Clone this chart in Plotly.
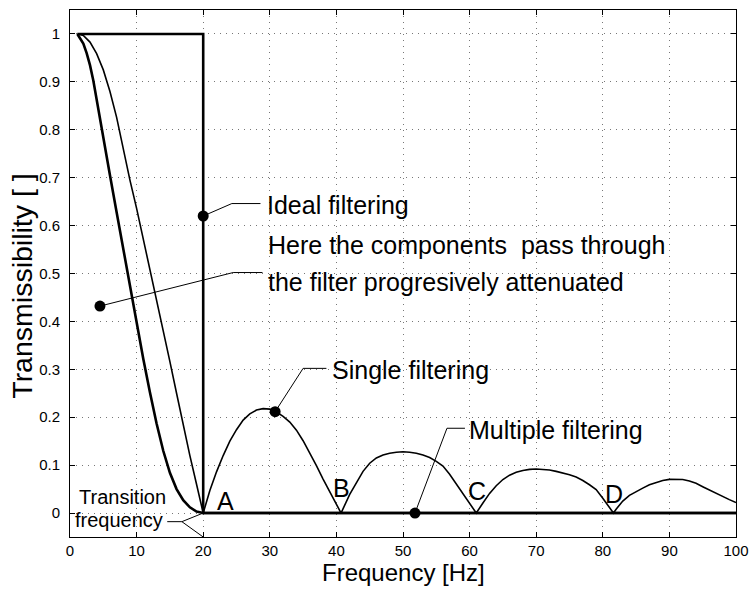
import plotly.graph_objects as go

# ---------------- data ----------------
# Ideal filter (thick)
freq_ideal = [1.1, 20, 20, 100]
trans_ideal = [1.0, 1.0, 0.0, 0.0]

# Single filtering (thin): main lobe + side lobes A-B, B-C, C-D, D-end
freq_single = [1.2, 2.0, 3.0, 4.0, 5.0, 6.0, 7.0, 7.5, 8.0, 9.0, 10.0, 11.0, 12.0, 13.0, 14.0, 15.0,
               16.0, 17.0, 18.0, 19.0, 20.0,
               21.0, 22.0, 23.0, 24.0, 25.0, 26.0, 27.0, 28.0, 29.0, 30.0, 31.0, 32.0, 33.0, 34.0,
               35.0, 36.0, 37.0, 38.0, 39.0, 40.0, 40.7,
               42.0, 43.0, 44.0, 45.0, 46.0, 47.0, 48.0, 49.0, 50.0, 51.0, 52.0, 53.0, 54.0, 55.0,
               56.0, 57.0, 58.0, 59.0, 60.0, 61.0,
               62.0, 63.0, 64.0, 65.0, 66.0, 67.0, 68.0, 69.0, 70.0, 71.0, 72.0, 73.0, 74.0, 75.0,
               76.0, 77.0, 78.0, 79.0, 80.0, 81.0, 81.6,
               82.0, 83.0, 84.0, 85.0, 86.0, 87.0, 88.0, 89.0, 90.0, 91.0, 92.0, 93.0, 94.0, 95.0,
               96.0, 97.0, 98.0, 99.0, 100.0]
trans_single = [1.0, 0.997, 0.983, 0.959, 0.925, 0.88, 0.826, 0.793, 0.76, 0.695, 0.636, 0.573, 0.51,
                0.445, 0.38, 0.316, 0.25, 0.184, 0.12, 0.06, 0.0,
                0.047, 0.086, 0.12, 0.15, 0.174, 0.194, 0.207, 0.215, 0.218, 0.217, 0.211, 0.202,
                0.19, 0.173, 0.151, 0.126, 0.099, 0.071, 0.044, 0.018, 0.0,
                0.039, 0.064, 0.087, 0.104, 0.115, 0.121, 0.125, 0.127, 0.128, 0.127, 0.125, 0.121,
                0.116, 0.108, 0.098, 0.081, 0.061, 0.041, 0.021, 0.0,
                0.021, 0.041, 0.057, 0.07, 0.079, 0.085, 0.089, 0.0912, 0.0918, 0.0915, 0.09, 0.087,
                0.084, 0.08, 0.075, 0.068, 0.059, 0.049, 0.031, 0.012, 0.0,
                0.008, 0.025, 0.037, 0.045, 0.052, 0.059, 0.064, 0.068, 0.0703, 0.0708, 0.07, 0.067,
                0.062, 0.055, 0.048, 0.041, 0.035, 0.028, 0.022]

# Multiple filtering (thick)
freq_multiple = [1.1, 1.6, 2.0, 2.5, 3.0, 3.5, 4.0, 4.5, 5.0, 5.5, 6.0, 7.0, 8.0, 9.0, 10.0, 11.0,
                 12.0, 13.0, 14.0, 15.0, 16.0, 17.0, 18.0, 19.0, 20.0, 100.0]
trans_multiple = [1.0, 0.99, 0.98, 0.96, 0.935, 0.903, 0.865, 0.825, 0.785, 0.745, 0.705, 0.628,
                  0.55, 0.475, 0.398, 0.322, 0.252, 0.187, 0.13, 0.084, 0.05, 0.027, 0.012, 0.003,
                  0.0, 0.0]

# Annotation dots and leader lines
dot_freq = [20.0, 4.5, 30.8, 51.8]
dot_trans = [0.62, 0.432, 0.2115, 0.0]
leader_ideal_x = [20.0, 24.3, 28.6]
leader_ideal_y = [0.62, 0.646, 0.646]
leader_here_x = [4.5, 24.5, 28.9]
leader_here_y = [0.432, 0.502, 0.502]
leader_single_x = [30.8, 35.0, 38.5]
leader_single_y = [0.2115, 0.302, 0.302]
leader_multi_x = [51.8, 56.6, 59.3]
leader_multi_y = [0.0, 0.177, 0.177]
leader_trans_x = [14.6, 16.8, 20.0, None, 16.8, 20.0]
leader_trans_y = [-0.018, -0.018, 0.0, None, -0.018, -0.05]

x_ticks = [0, 10, 20, 30, 40, 50, 60, 70, 80, 90, 100]
y_ticks = [0, 0.1, 0.2, 0.3, 0.4, 0.5, 0.6, 0.7, 0.8, 0.9, 1]
y_tick_labels = ["0", "0.1", "0.2", "0.3", "0.4", "0.5", "0.6", "0.7", "0.8", "0.9", "1"]

FONT = "Liberation Sans, Arial, Helvetica, sans-serif"

fig = go.Figure()
fig.add_trace(go.Scatter(x=freq_single, y=trans_single, mode="lines",
                         line=dict(color="black", width=1.6),
                         name="Single filtering", hoverinfo="skip"))
fig.add_trace(go.Scatter(x=freq_multiple, y=trans_multiple, mode="lines",
                         line=dict(color="black", width=2.6),
                         name="Multiple filtering", hoverinfo="skip"))
fig.add_trace(go.Scatter(x=freq_ideal, y=trans_ideal, mode="lines",
                         line=dict(color="black", width=2.6),
                         name="Ideal filtering", hoverinfo="skip"))
for lx, ly in [(leader_ideal_x, leader_ideal_y), (leader_here_x, leader_here_y),
               (leader_single_x, leader_single_y), (leader_multi_x, leader_multi_y),
               (leader_trans_x, leader_trans_y)]:
    fig.add_trace(go.Scatter(x=lx, y=ly, mode="lines", line=dict(color="black", width=1),
                             connectgaps=False, hoverinfo="skip"))
fig.add_trace(go.Scatter(x=dot_freq, y=dot_trans, mode="markers",
                         marker=dict(color="black", size=11), hoverinfo="skip"))

ann_font = dict(family=FONT, size=25, color="black")
small_font = dict(family=FONT, size=20, color="black")
annotations = [
    dict(x=29.3, y=0.643, text="Ideal filtering", xanchor="left", yanchor="middle", font=ann_font),
    dict(x=29.5, y=0.5595, text="Here the components  pass through", xanchor="left", yanchor="middle", font=ann_font),
    dict(x=29.5, y=0.482, text="the filter progresively attenuated", xanchor="left", yanchor="middle", font=ann_font),
    dict(x=39.0, y=0.2985, text="Single filtering", xanchor="left", yanchor="middle", font=ann_font),
    dict(x=59.6, y=0.173, text="Multiple filtering", xanchor="left", yanchor="middle", font=ann_font),
    dict(x=23.3, y=0.025, text="A", xanchor="center", yanchor="middle", font=ann_font),
    dict(x=40.8, y=0.053, text="B", xanchor="center", yanchor="middle", font=ann_font),
    dict(x=61.06, y=0.046, text="C", xanchor="center", yanchor="middle", font=ann_font),
    dict(x=81.7, y=0.039, text="D", xanchor="center", yanchor="middle", font=ann_font),
    dict(x=7.95, y=0.033, text="Transition", xanchor="center", yanchor="middle", font=small_font),
    dict(x=7.4, y=-0.015, text="frequency", xanchor="center", yanchor="middle", font=small_font),
]
for a in annotations:
    a.update(xref="x", yref="y", showarrow=False)

# axis titles placed as paper annotations
annotations.append(dict(x=0.5, y=-0.068, xref="paper", yref="paper", text="Frequency [Hz]",
                        showarrow=False, xanchor="center", yanchor="middle",
                        font=dict(family=FONT, size=24, color="black")))
annotations.append(dict(x=-0.072, y=0.475, xref="paper", yref="paper", text="Transmissibility [ ]",
                        showarrow=False, xanchor="center", yanchor="middle", textangle=-90,
                        font=dict(family=FONT, size=28.5, color="black")))

axis_common = dict(showline=True, linecolor="black", linewidth=1, mirror="ticks",
                   ticks="inside", ticklen=5, tickcolor="black",
                   showgrid=True, gridcolor="#777777", gridwidth=1, griddash="1px,5px",
                   zeroline=False, tickfont=dict(family=FONT, size=15, color="black"),
                   automargin=False, ticklabeloverflow="allow")

fig.update_layout(
    width=749, height=589,
    margin=dict(l=70, r=13, t=10, b=52),
    paper_bgcolor="white", plot_bgcolor="white",
    showlegend=False,
    annotations=annotations,
    xaxis=dict(range=[0, 100], tickvals=x_ticks, **axis_common),
    yaxis=dict(range=[-0.05, 1.05], tickvals=y_ticks, ticktext=y_tick_labels,
               ticklabelstandoff=6, **axis_common),
)

fig.write_html("out.html")
